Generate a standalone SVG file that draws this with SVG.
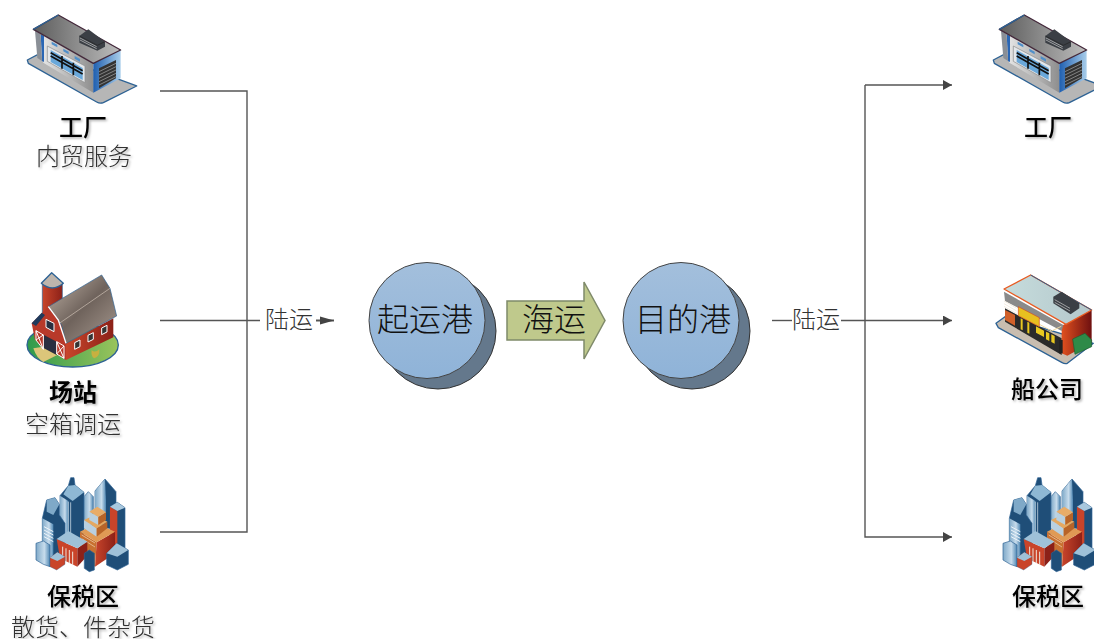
<svg xmlns="http://www.w3.org/2000/svg" width="1094" height="639" viewBox="0 0 1094 639">
<style>
text{font-family:"Noto Sans CJK SC","Noto Sans",sans-serif;text-anchor:middle}
.t{font-size:24px;fill:#000;font-weight:500;filter:url(#ts)}
.b{font-weight:700}
.s{font-size:24px;fill:#333;font-weight:300;filter:url(#ts)}
.c{font-size:32px;fill:#111;font-weight:300}
.l{font-size:24px;fill:#333;font-weight:300}
.con{fill:none;stroke:#555;stroke-width:1.400}
.o{stroke:#2d6294;stroke-width:4;stroke-linejoin:round}
.bc{fill:url(#bf);stroke:#444;stroke-width:1}
.fc{fill:#64788c;stroke:#333;stroke-width:1}
</style>
<defs>
<filter id="ts" x="-10%" y="-10%" width="125%" height="130%"><feDropShadow dx="1.500" dy="1.500" stdDeviation="1" flood-color="#000" flood-opacity=".3"/></filter>
<marker id="ah" markerUnits="userSpaceOnUse" markerWidth="10" markerHeight="10" refX="9" refY="5" orient="auto"><path d="M0 0L9 5L0 10Z" fill="#444"/></marker>
<marker id="ah2" markerUnits="userSpaceOnUse" markerWidth="14" markerHeight="10" refX="14" refY="5" orient="auto"><path d="M0 1L14 5L0 9Z" fill="#444"/></marker>
<linearGradient id="bf" x1="0" y1="0" x2="0" y2="1"><stop offset="0" stop-color="#a3bfdc"/><stop offset="1" stop-color="#8fb3d8"/></linearGradient>
<linearGradient id="roof" x1="0" y1="0" x2="1" y2="0"><stop offset="0" stop-color="#5c5c5c"/><stop offset="1" stop-color="#bdbdbd"/></linearGradient>
<linearGradient id="wall" x1="0" y1="0" x2="1" y2="0"><stop offset="0" stop-color="#f2f2f2"/><stop offset="1" stop-color="#8e8e8e"/></linearGradient>
<linearGradient id="blue" x1="0" y1="0" x2="1" y2="0"><stop offset="0" stop-color="#1f5fb0"/><stop offset="1" stop-color="#a8cdea"/></linearGradient>
<linearGradient id="grass" x1="0" y1="0" x2="1" y2="0"><stop offset="0" stop-color="#2f9a4c"/><stop offset="1" stop-color="#9ac45c"/></linearGradient>
<linearGradient id="red" x1="0" y1="0" x2="1" y2="0"><stop offset="0" stop-color="#c8452b"/><stop offset="1" stop-color="#8c2118"/></linearGradient>
<linearGradient id="barnroof" x1="0" y1="0" x2="1" y2="1"><stop offset="0" stop-color="#c2b4a8"/><stop offset=".5" stop-color="#6f635c"/><stop offset="1" stop-color="#a89a90"/></linearGradient>
<linearGradient id="sky" x1="0" y1="0" x2="1" y2="0"><stop offset="0" stop-color="#7fa9c8"/><stop offset=".6" stop-color="#c7dcec"/><stop offset="1" stop-color="#4f87b3"/></linearGradient>
<linearGradient id="shopw" x1="0" y1="0" x2="1" y2="0"><stop offset="0" stop-color="#e0501f"/><stop offset="1" stop-color="#6e1010"/></linearGradient>
<linearGradient id="shopr" x1="0" y1="0" x2="1" y2="0"><stop offset="0" stop-color="#c6dcdc"/><stop offset="1" stop-color="#b4c8cc"/></linearGradient>
<g id="factory" transform="scale(.3333)">
<path class="o" d="M82 180L130 155L410 258L310 308Q300 312 290 306L85 190Z" fill="#b6b6b6"/>
<path d="M105 92L280 190V278L130 188Z" fill="url(#wall)"/>
<path d="M122 102L132 108V186L126 183Z" fill="#2a66b4"/>
<path d="M105 92L122 102L126 183L112 174Z" fill="#8a8f96"/>
<path d="M142 138L255 198V248L142 184Z" fill="#e4e7ea" stroke="#8a8a8a" stroke-width="2"/>
<path d="M152 150L248 204V240L152 186Z" fill="#6aa8da"/>
<path d="M152 158L248 212M152 168L248 222M186 168V206M220 188V226" stroke="#111" stroke-width="5" fill="none"/>
<path d="M155 125L172 134V142L155 133ZM190 146L206 155V163L190 154ZM224 168L240 177V185L224 176Z" fill="#4f8fca"/>
<path d="M280 190L362 150V235L280 278Z" fill="url(#blue)"/>
<path d="M297 205L348 180V235L297 265Z" fill="#333"/>
<path d="M297 215L348 190M297 225L348 200M297 235L348 210M297 245L348 220M297 255L348 230" stroke="#aaa" stroke-width="2"/>
<path d="M100 88L175 45L362 150L280 190Z" fill="url(#roof)" stroke="#43283a" stroke-width="4" stroke-linejoin="round"/>
<path d="M100 88L175 45" stroke="#2d6294" stroke-width="4" fill="none"/>
<path d="M238 108L265 88L315 125V140L292 152L238 128Z" fill="#3b3f45"/>
<path d="M238 108L292 136L315 125" fill="none" stroke="#222" stroke-width="2"/>
<path d="M240 114L290 140M240 120L290 146" stroke="#cfcfcf" stroke-width="2"/>
</g>
<g id="city" transform="scale(.3333)">
<path d="M180 92L205 62L212 38H222L225 60L252 82V225H180Z" fill="#1f4e78" stroke="#2d6294" stroke-width="2"/>
<path d="M180 92L205 108V215H180Z" fill="url(#sky)"/>
<path d="M205 62L225 60L252 82L218 108L190 88Z" fill="#8eb8d4"/>
<path d="M212 112V205M205 110V205" stroke="#e8f2f8" stroke-width="2"/>
<path d="M285 78L315 42L348 80V190H285Z" fill="#1f4e78" stroke="#2d6294" stroke-width="2"/>
<path d="M285 78L315 42L318 105V160H285Z" fill="url(#sky)"/>
<path d="M252 95L265 80L280 95V190H252Z" fill="url(#sky)" stroke="#2d6294" stroke-width="2"/>
<path d="M127 160L140 105L165 98L178 118V150L195 175V272H127Z" fill="#1f4e78" stroke="#2d6294" stroke-width="2"/>
<path d="M127 160L160 178V285L127 265Z" fill="url(#sky)"/>
<path d="M140 105L165 98L178 118L160 150L140 140Z" fill="#7fa9c8"/>
<path d="M132 185L160 200M132 195L160 210M132 205L160 220M132 215L160 230" stroke="#eef5fa" stroke-width="3"/>
<path d="M108 235L130 228L150 240V305L130 298L108 285Z" fill="url(#sky)" stroke="#2d6294" stroke-width="2"/>
<path d="M330 125L352 112L375 128V255L330 275Z" fill="#1f4e78" stroke="#2d6294" stroke-width="2"/>
<path d="M330 125L352 138V250L330 262Z" fill="#c9442a"/>
<path d="M330 125L352 112L375 128L352 138Z" fill="#a9c8de"/>
<path d="M240 200L290 232L285 305L262 290L240 270Z" fill="#c87030"/>
<path d="M290 232L345 200V265L285 305Z" fill="url(#red)"/>
<path d="M240 200L290 175L345 200L290 232Z" fill="#e09a55"/>
<path d="M245 210L285 234M247 222L285 246" stroke="#f0d8b8" stroke-width="2"/>
<path d="M252 165L290 190V215L252 190Z" fill="#b9d0e0"/>
<path d="M290 190L322 170V190L290 215Z" fill="#b86428"/>
<path d="M252 165L285 150L322 170L290 190Z" fill="#e5a860"/>
<path d="M268 140L295 155V180L268 165Z" fill="#b9d0e0"/>
<path d="M295 155L318 142V165L295 180Z" fill="#b86428"/>
<path d="M268 140L292 125L318 142L295 155Z" fill="#e8ac68"/>
<path d="M170 222L232 250V305L180 280Z" fill="#c9442a"/>
<path d="M232 250L262 230V272L232 305Z" fill="#8c2118"/>
<path d="M170 222L205 198L262 230L232 250Z" fill="#9fc1d8"/>
<path d="M188 245V285M198 250V290M208 255V295M218 260V300" stroke="#f0e4dc" stroke-width="3"/>
<path d="M150 278L172 262L195 275V298L170 315L150 305Z" fill="#c9442a" stroke="#2d6294" stroke-width="1"/>
<path d="M150 278L172 262L195 275L172 288Z" fill="#9fc1d8"/>
<path d="M253 265L268 255L283 265V315L268 320L253 310Z" fill="#1f4e78" stroke="#2d6294" stroke-width="2"/>
<path d="M320 265L350 235L385 255V298L352 315L320 300Z" fill="#1f4e78" stroke="#2d6294" stroke-width="2"/>
<path d="M320 265L350 235L385 255L352 275Z" fill="#9fc1d8"/>
</g>
</defs>

<g id="connectors">
<path class="con" d="M160 91H247V532H160"/>
<path class="con" d="M160 320.500H260"/>
<path class="con" d="M316 320.500H334" style="stroke-width:2" marker-end="url(#ah2)"/>
<path class="con" d="M772 320.500H792"/>
<path class="con" d="M841 320.500H952" marker-end="url(#ah)"/>
<path class="con" d="M865 85V537H952" marker-end="url(#ah)"/>
<path class="con" d="M865 85H952" marker-end="url(#ah)"/>
<text class="l" x="289" y="328">陆运</text>
<text class="l" x="816" y="328">陆运</text>
</g>

<g id="factory-left"><use href="#factory"/><text class="t" x="83" y="136">工厂</text><text class="s" x="84" y="165">内贸服务</text></g>

<g id="yard"><g transform="translate(0,260) scale(.3333)">
<ellipse class="o" cx="218" cy="255" rx="137" ry="66" fill="url(#grass)"/>
<path d="M100 265L130 260L172 285L130 306Q110 295 100 265Z" fill="#dcc67a"/>
<path d="M127 72H187V165H127Z" fill="url(#red)" stroke="#2d6294" stroke-width="2"/>
<path class="o" d="M124 70L155 38L190 70Q157 98 124 70Z" fill="#bdb5ad"/>
<path d="M95 190L130 155L145 140L185 195L198 250V300L105 240Z" fill="#b8392a"/>
<path d="M95 190L125 158L135 165L108 198Z" fill="#1f3a5c"/>
<path d="M132 225L170 245V285L132 265Z" fill="#2a2f40"/>
<path d="M108 212L130 225V268L108 240ZM108 212L130 268M130 225L108 240M170 245L192 258V295L170 282ZM170 245L192 295M192 258L170 282" fill="#b8392a" stroke="#fff" stroke-width="3"/>
<path d="M138 178L162 190V215L138 202Z" fill="#2a2f40" stroke="#fff" stroke-width="3"/>
<path d="M198 250L340 175V232L198 300Z" fill="url(#red)"/>
<path d="M224 248L240 240V260L224 268ZM264 226L280 218V238L264 246ZM305 204L321 196V216L305 224Z" fill="#333" stroke="#fff" stroke-width="3"/>
<path d="M145 140L305 45L330 85L350 168L198 250L185 195Z" fill="url(#barnroof)" stroke="#2d6294" stroke-width="2"/>
<path d="M145 140L175 180L190 225L198 250" stroke="#fff" stroke-width="4" fill="none"/>
<path d="M178 190L330 85" stroke="#d2c4b8" stroke-width="2" fill="none"/>
<path d="M275 270Q285 280 298 268Q300 290 283 295Q272 290 275 270Z" fill="#c8b040"/>
</g><text class="t b" x="73" y="401">场站</text><text class="s" x="73" y="433">空箱调运</text></g>

<g id="bonded-left"><g transform="translate(0,465)"><use href="#city"/></g><text class="t" x="83" y="605">保税区</text><text class="s" x="83" y="636">散货、件杂货</text></g>

<g id="origin-port"><circle class="fc" cx="438" cy="331" r="58"/><circle class="bc" cx="427" cy="320.500" r="58"/><text class="c" x="425" y="331">起运港</text></g>

<g id="sea"><path d="M507 301H584V282L605 320.500L584 359V340H507Z" fill="#bfc98c" stroke="#7f8a6a" stroke-width="1.500"/><text class="c" x="554" y="331">海运</text></g>

<g id="dest-port"><circle class="fc" cx="692" cy="331" r="58"/><circle class="bc" cx="681" cy="320.500" r="58"/><text class="c" x="683" y="331">目的港</text></g>

<g id="factory-right"><g transform="translate(966,0)"><use href="#factory"/></g><text class="t" x="1048" y="136">工厂</text></g>

<g id="shipping"><g transform="translate(980,265) scale(.3333)">
<path class="o" d="M48 175L75 155L340 235L262 295Q255 298 245 292L55 188Z" fill="#c8bdb0"/>
<path d="M75 130L245 220V270L75 170Z" fill="#2a2a2a"/>
<path d="M75 135L105 150V182L75 165Z" fill="#d0602a"/>
<path d="M122 160L128 163V196L122 193ZM142 170L148 173V206L142 203ZM168 184L192 197V216L168 203ZM198 200L208 205V228L198 223ZM214 208L224 213V236L214 231Z" fill="#e8c820"/>
<path d="M245 182L335 135V232L262 272L245 265Z" fill="url(#shopw)"/>
<path d="M72 80L250 180L245 198L165 155L75 108Z" fill="#8a8a8a"/>
<path d="M72 108L110 130M72 116L110 138M72 124L110 146" stroke="#f4ece0" stroke-width="3"/>
<path d="M178 178L215 198L244 184" stroke="#f0d8a0" stroke-width="3" fill="none"/>
<path d="M115 125L178 158V185L115 152Z" fill="#e8c020" stroke="#d84a20" stroke-width="2"/>
<path d="M72 72L152 30L335 135L258 178Z" fill="url(#shopr)" stroke="#e85a20" stroke-width="4" stroke-linejoin="round"/>
<path d="M152 30L335 135" stroke="#2d6294" stroke-width="3" fill="none"/>
<path d="M220 95L245 80L298 115V130L272 148L220 115Z" fill="#3b3f45"/>
<path d="M224 104L270 130M224 112L270 138" stroke="#cfcfcf" stroke-width="2"/>
<path d="M238 225H248V265H238Z" fill="#222"/>
<path d="M278 222L315 205L335 225V245L285 268Z" fill="#2e8a48" stroke="#1d5c30" stroke-width="2"/>
</g><text class="t" x="1047" y="398">船公司</text></g>

<g id="bonded-right"><g transform="translate(967,465)"><use href="#city"/></g><text class="t" x="1048" y="605">保税区</text></g>
</svg>
